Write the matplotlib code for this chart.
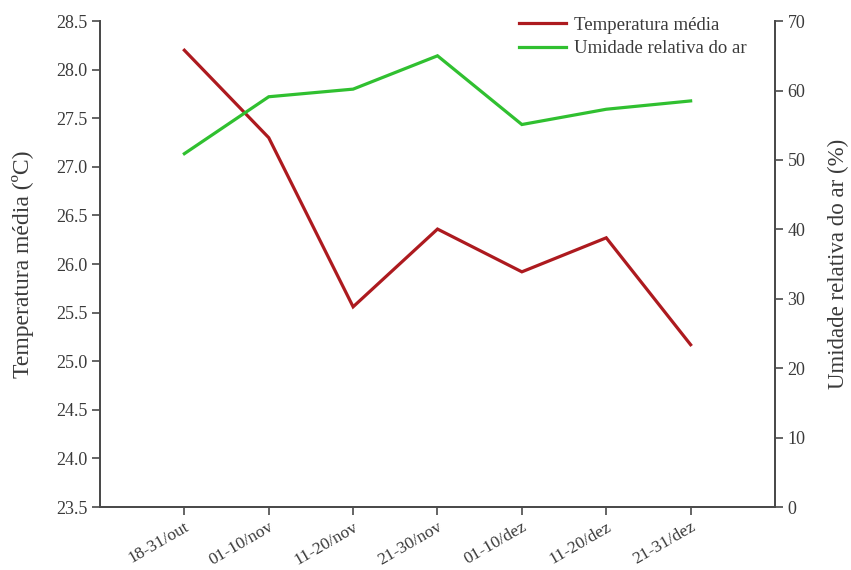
import matplotlib
matplotlib.use("Agg")
import matplotlib.pyplot as plt
from matplotlib.ticker import FormatStrFormatter

plt.rcParams['font.family'] = ['Liberation Serif', 'DejaVu Serif']

periods = ["18-31/out", "01-10/nov", "11-20/nov", "21-30/nov",
           "01-10/dez", "11-20/dez", "21-31/dez"]
temperatura = [28.20, 27.30, 25.56, 26.36, 25.92, 26.27, 25.17]
umidade = [50.9, 59.1, 60.2, 65.0, 55.1, 57.3, 58.5]

temp_ticks = [23.5, 24.0, 24.5, 25.0, 25.5, 26.0, 26.5, 27.0, 27.5, 28.0, 28.5]
umid_ticks = [0, 10, 20, 30, 40, 50, 60, 70]

red = "#ad1a1f"
green = "#30c030"
axis_col = "#4a4a4a"
text_col = "#3a3a3a"

fig = plt.figure(figsize=(8.51, 5.70), dpi=100)
ax = fig.add_axes([0.1175, 0.1105, 0.7932, 0.8525])
ax2 = ax.twinx()

x = list(range(len(periods)))
l1, = ax.plot(x, temperatura, color=red, lw=2.3, label="Temperatura média",
              solid_joinstyle="miter")
l2, = ax2.plot(x, umidade, color=green, lw=2.3, label="Umidade relativa do ar",
               solid_joinstyle="miter")

ax.set_xlim(-1, len(periods))
ax.set_ylim(23.5, 28.5)
ax2.set_ylim(0, 70)
ax.set_yticks(temp_ticks)
ax.yaxis.set_major_formatter(FormatStrFormatter("%.1f"))
ax2.set_yticks(umid_ticks)
ax.set_xticks(x)
ax.set_xticklabels(periods, rotation=30, ha="right", rotation_mode="anchor")

for a in (ax, ax2):
    a.spines["top"].set_visible(False)
    for s in a.spines.values():
        s.set_color(axis_col)
        s.set_linewidth(1.3)
    a.tick_params(colors=axis_col, labelcolor=text_col, labelsize=13,
                  width=1.2, length=5.5, direction="out")
ax.tick_params(axis="x", pad=3, labelsize=12.5)

ax.set_ylabel("Temperatura média (ºC)", fontsize=17, color=text_col, labelpad=16)
ax2.set_ylabel("Umidade relativa do ar (%)", fontsize=16.5, color=text_col, labelpad=16)

leg = ax.legend(handles=[l1, l2], loc="upper left", bbox_to_anchor=(0.61, 1.025),
                frameon=False, fontsize=13.5, handlelength=2.5,
                handletextpad=0.4, labelspacing=0.35, borderaxespad=0)
for t in leg.get_texts():
    t.set_color(text_col)

fig.savefig("out.png", dpi=100)
